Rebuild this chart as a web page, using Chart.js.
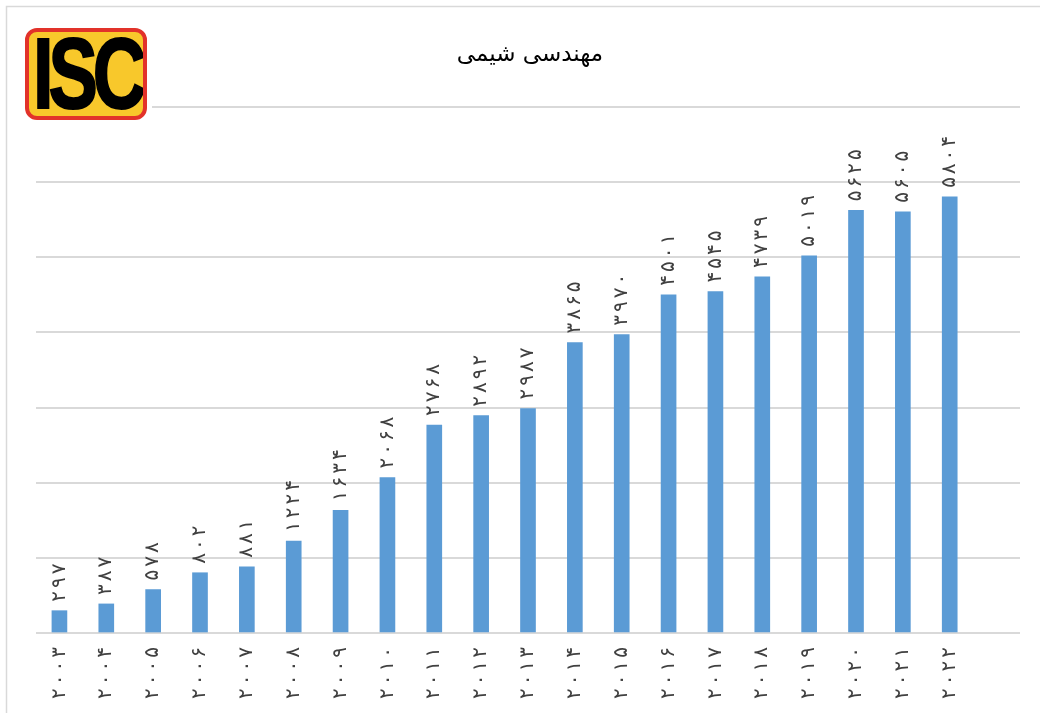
<!DOCTYPE html>
<html>
<head>
<meta charset="utf-8">
<script src="https://cdn.jsdelivr.net/npm/chart.js@4.4.1/dist/chart.umd.min.js"></script>
<style>
  html, body { margin: 0; padding: 0; background: #fff; }
  #wrap { position: relative; width: 1040px; height: 713px; overflow: hidden; }
  #logo {
    position: absolute; left: 20px; top: 24px; width: 132px; height: 100px;
    background: #fff;
  }
  #logo .box {
    position: absolute; left: 5px; top: 4px; width: 114px; height: 84px;
    background: #f8c82b; border: 4px solid #e2322a; border-radius: 12px;
    overflow: hidden;
  }
  #logo .box span {
    position: absolute; left: -22px; top: -16px; width: 160px; text-align: center;
    font-family: "Liberation Sans", Arial, sans-serif; font-weight: bold;
    font-size: 100px; line-height: 114px; letter-spacing: -7px; color: #000;
    transform: scaleX(0.74); transform-origin: 50% 50%;
    -webkit-text-stroke: 2px #000;
  }
</style>
</head>
<body>
<div id="wrap">
  <canvas id="chemChart" width="1040" height="713"></canvas>
  <div id="logo"><div class="box"><span>ISC</span></div></div>
</div>
<script>
// data
var title = 'مهندسی شیمی';
var years = [2003, 2004, 2005, 2006, 2007, 2008, 2009, 2010, 2011, 2012,
             2013, 2014, 2015, 2016, 2017, 2018, 2019, 2020, 2021, 2022];
var counts = [297, 387, 578, 802, 881, 1224, 1634, 2068, 2768, 2892,
              2987, 3865, 3970, 4501, 4545, 4739, 5019, 5625, 5605, 5804];
var yMax = 7000;
var yStep = 1000;

function fa(n) {
    return String(n).replace(/[0-9]/g, function (d) { return '۰۱۲۳۴۵۶۷۸۹'[d]; });
}

// one empty slot on the right like the original sheet
var labels = years.map(fa).concat(['']);
var values = counts.concat([null]);

var labelFont = '20px "DejaVu Sans", sans-serif';
var gap = 3;

// draws digits one by one along the current x direction, with a little gap
function spacedText(ctx, text, alignEnd) {
    var chars = text.split('');
    var widths = chars.map(function (c) { return ctx.measureText(c).width; });
    var total = widths.reduce(function (a, b) { return a + b; }, 0) + gap * (chars.length - 1);
    var x = alignEnd ? -total : 0;
    ctx.textAlign = 'left';
    chars.forEach(function (c, i) {
        ctx.fillText(c, x, 0);
        x += widths[i] + gap;
    });
}

var extras = {
    id: 'extras',
    beforeDraw: function (chart) {
        var ctx = chart.ctx;
        ctx.save();
        ctx.fillStyle = '#fff';
        ctx.fillRect(0, 0, chart.width, chart.height);
        ctx.strokeStyle = '#d9d9d9';
        ctx.lineWidth = 1.5;
        ctx.strokeRect(6.5, 6.5, 1200, 900);
        ctx.restore();
    },
    afterDatasetsDraw: function (chart) {
        var ctx = chart.ctx;
        var meta = chart.getDatasetMeta(0);
        var xScale = chart.scales.x;
        var area = chart.chartArea;
        ctx.save();
        ctx.fillStyle = '#404040';
        ctx.font = labelFont;
        ctx.textBaseline = 'middle';

        // value labels, rotated, above bars
        meta.data.forEach(function (bar, i) {
            if (values[i] == null) return;
            ctx.save();
            ctx.translate(bar.x, bar.y - 9);
            ctx.rotate(-Math.PI / 2);
            spacedText(ctx, fa(values[i]), false);
            ctx.restore();
        });

        // year labels under the axis
        labels.forEach(function (lab, i) {
            if (!lab) return;
            var x = xScale.getPixelForValue(i);
            ctx.save();
            ctx.translate(x, area.bottom + 14);
            ctx.rotate(-Math.PI / 2);
            spacedText(ctx, lab, true);
            ctx.restore();
        });

        // title
        ctx.fillStyle = '#000';
        ctx.font = '23px "DejaVu Sans", sans-serif';
        ctx.textAlign = 'center';
        ctx.fillText(title, 530, 55);
        ctx.restore();
    }
};

var chemChart = new Chart(document.getElementById('chemChart'), {
    type: 'bar',
    data: {
        labels: labels,
        datasets: [{
            label: title,
            data: values,
            backgroundColor: '#5b9bd5',
            borderWidth: 0,
            barThickness: 15
        }]
    },
    options: {
        responsive: false,
        animation: false,
        layout: {
            padding: { left: 36, right: 20, top: 107, bottom: 80 }
        },
        plugins: {
            legend: { display: false },
            tooltip: { enabled: false },
            title: { display: false }
        },
        scales: {
            x: {
                display: false
            },
            y: {
                min: 0,
                max: yMax,
                ticks: { display: false, stepSize: yStep },
                border: { display: false },
                grid: { color: '#d9d9d9', lineWidth: 2, drawTicks: false }
            }
        }
    },
    plugins: [extras]
});
</script>
</body>
</html>
